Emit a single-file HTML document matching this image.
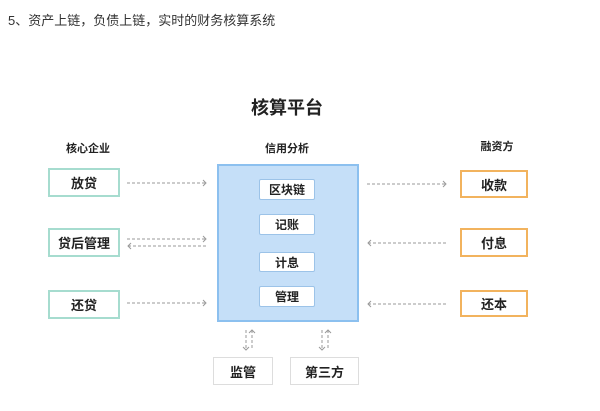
<!DOCTYPE html>
<html><head><meta charset="utf-8"><style>
body{margin:0;width:600px;height:411px;background:#fff;position:relative;overflow:hidden;font-family:"Liberation Sans","Noto Sans CJK SC",sans-serif;color:#222}
.a{position:absolute}
.t{position:absolute;font-weight:bold;text-align:center;transform:translateX(-50%);white-space:nowrap}
.b{position:absolute;box-sizing:border-box;display:flex;align-items:center;justify-content:center;font-weight:bold;font-size:13px;background:#fff}
.g{border:2px solid #a6dccf}
.o{border:2px solid #f2b35e}
.i{border:1px solid #9cc3e8;border-radius:2px;font-size:12px}
.s{border:1px solid #ddd}
</style></head><body>
<div class="a" style="left:8px;top:10px;font-size:13px;color:#333">5、资产上链，负债上链，实时的财务核算系统</div>
<div class="t" style="left:287px;top:94px;font-size:18px">核算平台</div>
<div class="t" style="left:88px;top:140px;font-size:11px">核心企业</div>
<div class="t" style="left:287px;top:140px;font-size:11px">信用分析</div>
<div class="t" style="left:497px;top:138px;font-size:11px">融资方</div>
<div class="b g" style="left:48px;top:168px;width:72px;height:29px">放贷</div>
<div class="b g" style="left:48px;top:228px;width:72px;height:29px">贷后管理</div>
<div class="b g" style="left:48px;top:290px;width:72px;height:29px">还贷</div>
<div class="a" style="left:217px;top:164px;width:142px;height:158px;box-sizing:border-box;background:#c5dff8;border:2px solid #8cc0ef"></div>
<div class="b i" style="left:259px;top:179px;width:56px;height:21px">区块链</div>
<div class="b i" style="left:259px;top:214px;width:56px;height:21px">记账</div>
<div class="b i" style="left:259px;top:252px;width:56px;height:20px">计息</div>
<div class="b i" style="left:259px;top:286px;width:56px;height:21px">管理</div>
<div class="b o" style="left:460px;top:170px;width:68px;height:28px">收款</div>
<div class="b o" style="left:460px;top:228px;width:68px;height:29px">付息</div>
<div class="b o" style="left:460px;top:290px;width:68px;height:27px">还本</div>
<div class="b s" style="left:213px;top:357px;width:60px;height:28px">监管</div>
<div class="b s" style="left:290px;top:357px;width:69px;height:28px">第三方</div>
<svg class="a" style="left:0;top:0" width="600" height="411">
<g stroke="#999" stroke-width="1" stroke-dasharray="3,2" fill="none">
<line x1="127" y1="183" x2="205" y2="183"/>
<line x1="127" y1="239" x2="205" y2="239"/>
<line x1="128" y1="246" x2="206" y2="246"/>
<line x1="127" y1="303" x2="205" y2="303"/>
<line x1="367" y1="184" x2="445" y2="184"/>
<line x1="368" y1="243" x2="446" y2="243"/>
<line x1="368" y1="304" x2="446" y2="304"/>
<line x1="246" y1="330" x2="246" y2="350"/>
<line x1="252" y1="330" x2="252" y2="350"/>
<line x1="322" y1="330" x2="322" y2="350"/>
<line x1="328" y1="330" x2="328" y2="350"/>
</g>
<g stroke="#999" stroke-width="1" fill="none">
<polyline points="203,180 206,183 203,186"/><polyline points="203,236 206,239 203,242"/>
<polyline points="131,243 128,246 131,249"/><polyline points="203,300 206,303 203,306"/>
<polyline points="443,181 446,184 443,187"/><polyline points="371,240 368,243 371,246"/>
<polyline points="371,301 368,304 371,307"/>
<polyline points="243,347 246,350 249,347"/><polyline points="249,333 252,330 255,333"/>
<polyline points="319,347 322,350 325,347"/><polyline points="325,333 328,330 331,333"/>
</g></svg>
</body></html>
